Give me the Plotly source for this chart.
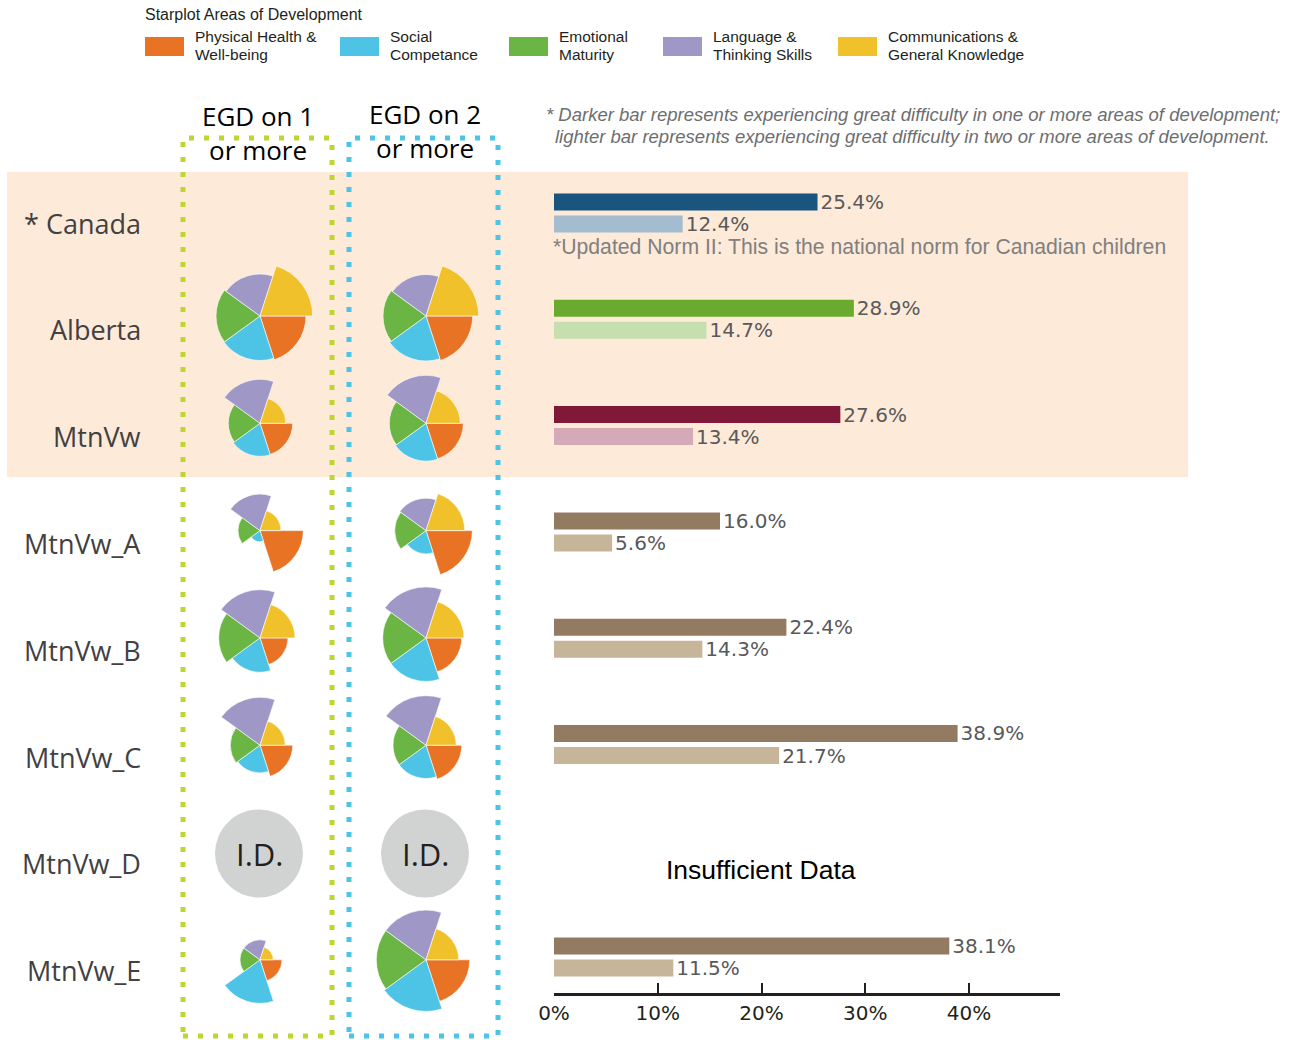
import plotly.graph_objects as go

# ---------------- data ----------------
regions = ["* Canada", "Alberta", "MtnVw", "MtnVw_A", "MtnVw_B", "MtnVw_C", "MtnVw_D", "MtnVw_E"]
egd_one_or_more = [25.4, 28.9, 27.6, 16.0, 22.4, 38.9, None, 38.1]
egd_two_or_more = [12.4, 14.7, 13.4, 5.6, 14.3, 21.7, None, 11.5]
dark_colors = ["#1a557f", "#6aaa2f", "#801838", "#937b62", "#937b62", "#937b62", "#937b62", "#937b62"]
light_colors = ["#a3bccf", "#c5dfae", "#d5aab8", "#c7b59a", "#c7b59a", "#c7b59a", "#c7b59a", "#c7b59a"]
x_ticks = [0, 10, 20, 30, 40]

domains = ["Physical Health &<br>Well-being", "Social<br>Competance", "Emotional<br>Maturity",
           "Language &<br>Thinking Skills", "Communications &<br>General Knowledge"]
domain_colors = ["#e87324", "#4dc3e6", "#6bb545", "#9f98c7", "#f1c12c"]

star_rows = ["Alberta", "MtnVw", "MtnVw_A", "MtnVw_B", "MtnVw_C", "MtnVw_E"]
id_rows = ["MtnVw_D"]
# star radii (relative units) for "EGD on 1 or more"
egd1_physical = [46.0, 32.7, 43.3, 28.0, 32.7, 22.0]
egd1_social = [44.5, 33.0, 11.0, 34.3, 27.7, 43.5]
egd1_emotional = [44.0, 31.7, 22.0, 41.3, 29.7, 20.0]
egd1_language = [42.0, 44.0, 36.5, 48.2, 47.9, 20.0]
egd1_communication = [52.7, 26.0, 21.0, 35.0, 25.3, 13.3]
# star radii for "EGD on 2 or more"
egd2_physical = [46.7, 37.3, 46.3, 35.7, 35.7, 43.7]
egd2_social = [45.0, 37.8, 23.3, 43.5, 33.3, 51.6]
egd2_emotional = [43.0, 36.7, 31.3, 43.3, 33.0, 49.7]
egd2_language = [41.5, 48.0, 32.4, 51.0, 49.5, 49.7]
egd2_communication = [52.7, 34.3, 38.7, 38.0, 30.3, 32.7]

# ---------------- layout helpers ----------------
W, H = 1302, 1040
def fx(x): return x / W
def fy(y): return 1 - y / H

fig = go.Figure()
shapes, annots = [], []

# peach background
shapes.append(dict(type="rect", xref="paper", yref="paper", x0=fx(7), x1=fx(1188), y0=fy(477), y1=fy(172),
                   fillcolor="#fdead8", line=dict(width=0), layer="below"))

# ---------------- bars ----------------
for vals, cols in [(egd_one_or_more, dark_colors), (egd_two_or_more, light_colors)]:
    fig.add_trace(go.Bar(y=regions, x=vals, orientation="h", marker=dict(color=cols, line=dict(width=0)),
                         text=[None if v is None else f"{v:.1f}%" for v in vals], textposition="outside",
                         textfont=dict(family="DejaVu Sans", size=20, color="#58595b"), cliponaxis=False,
                         constraintext="none", showlegend=False, hoverinfo="skip"))

px_per_pct = 10.375
x0_px, x1_px = 554, 1060
row0_px, row_step = 213, 106.3
fig.update_layout(
    barmode="group", bargap=0.586, bargroupgap=0.227,
    xaxis=dict(domain=[fx(x0_px), fx(x1_px)], range=[0, (x1_px - x0_px) / px_per_pct], anchor="y",
               tickvals=x_ticks, ticktext=[f"{t}%" for t in x_ticks], ticks="inside", ticklen=10, tickwidth=2,
               tickcolor="#231f20", showline=True, linewidth=3, linecolor="#231f20", showgrid=False, zeroline=False,
               automargin=False, tickfont=dict(family="DejaVu Sans", size=20, color="#231f20")),
    yaxis=dict(domain=[fy(993), fy(172)], type="category", categoryorder="array", categoryarray=regions,
               range=[(993 - row0_px) / row_step, (172 - row0_px) / row_step], automargin=False,
               showticklabels=False, showgrid=False, zeroline=False, showline=False, ticks=""),
)

# ---------------- star plots ----------------
egd1 = [egd1_physical, egd1_social, egd1_emotional, egd1_language, egd1_communication]
egd2 = [egd2_physical, egd2_social, egd2_emotional, egd2_language, egd2_communication]
col_cx = [260, 426]
star_y0, star_step = 316, 107.3
R = 55
k = 0
for ri, name in enumerate(star_rows):
    pos = regions.index(name)
    cy = star_y0 + star_step * (pos - 1)
    for ci, vals in enumerate([egd1, egd2]):
        k += 1
        pid = "polar" if k == 1 else f"polar{k}"
        cx = col_cx[ci]
        fig.add_trace(go.Barpolar(r=[v[ri] for v in vals], theta=domains, subplot=pid,
                                  marker=dict(color=domain_colors, line=dict(color="white", width=0.6)),
                                  showlegend=False, hoverinfo="skip"))
        fig.layout[pid] = dict(
            domain=dict(x=[fx(cx - R), fx(cx + R)], y=[fy(cy + R), fy(cy - R)]),
            bgcolor="rgba(0,0,0,0)", bargap=0,
            radialaxis=dict(range=[0, R], visible=False),
            angularaxis=dict(visible=False, rotation=-36, direction="clockwise", type="category",
                             categoryorder="array", categoryarray=domains))

# Insufficient data circles
for name in id_rows:
    pos = regions.index(name)
    cy = star_y0 + star_step * (pos - 1) + 1
    for cx in col_cx:
        shapes.append(dict(type="circle", xref="paper", yref="paper", x0=fx(cx - 1 - 44), x1=fx(cx - 1 + 44),
                           y0=fy(cy + 44), y1=fy(cy - 44), fillcolor="#d1d3d2", line=dict(width=0)))
        annots.append(dict(text="I.D.", x=fx(cx - 1), y=fy(cy), xref="paper", yref="paper", showarrow=False,
                           xanchor="center", yanchor="middle", font=dict(family="Open Sans", size=31, color="#231f20")))
    bpos = row0_px + row_step * pos + 19
    annots.append(dict(text="Insufficient Data", x=fx(761), y=fy(bpos), xref="paper", yref="paper", showarrow=False,
                       xanchor="center", yanchor="middle", font=dict(family="Liberation Sans", size=26.5, color="#000000")))

# row labels
for i, name in enumerate(regions):
    cy = 223 + 106.8 * i
    annots.append(dict(text=name, x=fx(143), y=fy(cy), xref="paper", yref="paper", showarrow=False,
                       xanchor="right", yanchor="middle", font=dict(family="Open Sans", size=27, color="#414042")))

# dotted column boxes
for (xa, xb, col) in [(183, 332, "#bdd631"), (349, 498, "#4dc3e8")]:
    shapes.append(dict(type="rect", xref="paper", yref="paper", x0=fx(xa), x1=fx(xb), y0=fy(1036), y1=fy(138),
                       line=dict(color=col, width=5, dash="5px,10px"), fillcolor="rgba(0,0,0,0)"))

# column headers
for txt, cx, cy in [("EGD on 1<br>or more", 258, 133), ("EGD on 2<br>or more", 425, 131)]:
    annots.append(dict(text=txt, x=fx(cx), y=fy(cy), xref="paper", yref="paper", showarrow=False,
                       xanchor="center", yanchor="middle", font=dict(family="Open Sans", size=26, color="#000000")))

# notes
annots.append(dict(text="<i>* Darker bar represents experiencing great difficulty in one or more areas of development;</i>",
                   x=fx(544), y=fy(114), xref="paper", yref="paper", showarrow=False, xanchor="left", yanchor="middle",
                   font=dict(family="Liberation Sans", size=18.5, color="#6d6e70")))
annots.append(dict(text="<i>lighter bar represents experiencing great difficulty in two or more areas of development.</i>",
                   x=fx(553), y=fy(137), xref="paper", yref="paper", showarrow=False, xanchor="left", yanchor="middle",
                   font=dict(family="Liberation Sans", size=18.5, color="#6d6e70")))
annots.append(dict(text="*Updated Norm II: This is the national norm for Canadian children",
                   x=fx(551), y=fy(247), xref="paper", yref="paper", showarrow=False, xanchor="left", yanchor="middle",
                   font=dict(family="Liberation Sans", size=21.2, color="#808080")))

# legend
annots.append(dict(text="Starplot Areas of Development", x=fx(143), y=fy(15), xref="paper", yref="paper",
                   showarrow=False, xanchor="left", yanchor="middle",
                   font=dict(family="Liberation Sans", size=16, color="#231f20")))
legend_x = [145, 340, 509, 663, 838]
for lx, lab, colr in zip(legend_x, domains, domain_colors):
    shapes.append(dict(type="rect", xref="paper", yref="paper", x0=fx(lx), x1=fx(lx + 39), y0=fy(56), y1=fy(37),
                       fillcolor=colr, line=dict(width=0)))
    for li, line in enumerate(lab.split("<br>")):
        annots.append(dict(text=line, x=fx(lx + 48), y=fy(37 + 17 * li), xref="paper", yref="paper",
                           showarrow=False, xanchor="left", yanchor="middle",
                           font=dict(family="Liberation Sans", size=15.5, color="#231f20")))

fig.update_layout(template="none", width=W, height=H, margin=dict(l=0, r=0, t=0, b=0, pad=0), autosize=False,
                  paper_bgcolor="white", plot_bgcolor="rgba(0,0,0,0)", shapes=shapes, annotations=annots)

fig.write_html("out.html", post_script="document.body.style.margin='0';",
               config={"displayModeBar": False})
